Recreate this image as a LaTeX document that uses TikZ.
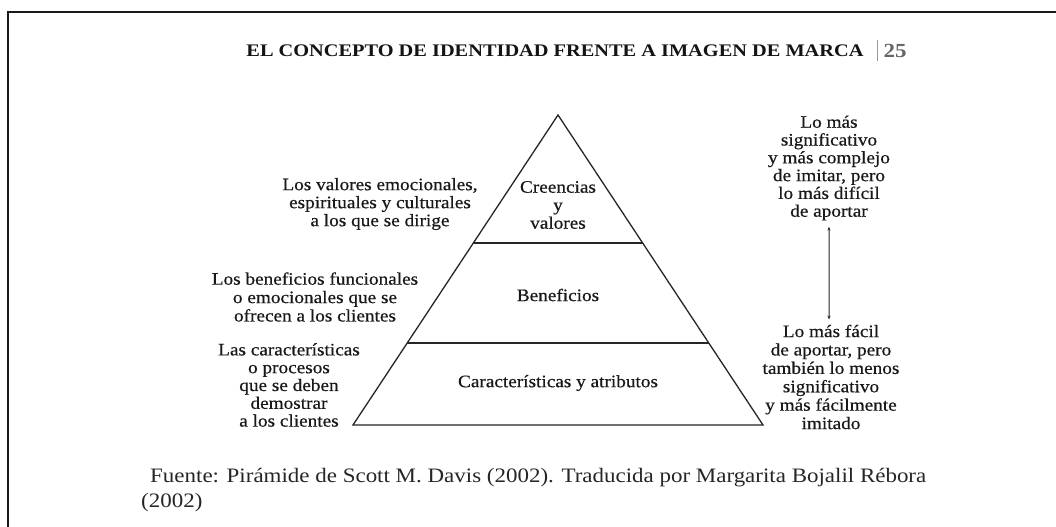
\documentclass[tikz,border=0pt]{standalone}
\usepackage{fontspec}
\setmainfont{Liberation Serif}
\newfontfamily\labfont[FakeStretch=1.1,FakeBold=0.5]{Liberation Serif}
\newfontfamily\titfont[FakeStretch=1.15]{Liberation Serif}
\newfontfamily\capfont[FakeStretch=1.12]{Liberation Serif}
\usetikzlibrary{arrows.meta}
\begin{document}
\begin{tikzpicture}[x=1bp,y=-1bp,
  lab/.style={align=center,inner sep=0pt,text=black!90,font=\labfont\fontsize{17.5bp}{18bp}\selectfont},
  pyr/.style={draw=black!85,line width=1.3bp,line join=miter},
  tit/.style={inner sep=0pt,text=black!92,font=\titfont\bfseries\fontsize{17.7bp}{18bp}\selectfont},
  capt/.style={inner sep=0pt,align=left,text=black!85,font=\capfont\fontsize{20.5bp}{25bp}\selectfont}]
\useasboundingbox (0,0) rectangle (1056,527);
\fill[white] (0,0) rectangle (1056,527);
% frame
\draw[line width=2.6bp,black!90] (8,527) -- (8,12) -- (1056,12);
% title
\node[tit] (title) at (555,51) {EL CONCEPTO DE IDENTIDAD FRENTE A IMAGEN DE MARCA};
\coordinate (bartop) at (877,40);
\coordinate (barbot) at (877,61);
\draw[black!40,line width=0.9bp] (bartop) -- (barbot);
\node[tit,font=\titfont\bfseries\fontsize{20bp}{20bp}\selectfont,text=black!60] (page) at (895,51) {25};
% pyramid
\coordinate (apex) at (558,115);
\coordinate (bl) at (353,425);
\coordinate (br) at (763,425);
\coordinate (d1l) at (473.5,243);
\coordinate (d1r) at (642.5,243);
\coordinate (d2l) at (407.4,343);
\coordinate (d2r) at (708.6,343);
\draw[pyr] (apex) -- (bl) -- (br) -- cycle;
\draw[pyr] (d1l) -- (d1r);
\draw[pyr] (d2l) -- (d2r);
\node[lab] (creen) at (558,205) {Creencias\\y\\valores};
\node[lab] (benef) at (558,295) {Beneficios};
\node[lab] (carac) at (558,383) {Características y atributos};
% left labels
\node[lab] (l1) at (380,204) {Los valores emocionales,\\espirituales y culturales\\a los que se dirige};
\node[lab,font=\labfont\fontsize{17.5bp}{18.4bp}\selectfont] (l2) at (315,297) {Los beneficios funcionales\\o emocionales que se\\ofrecen a los clientes};
\node[lab,font=\labfont\fontsize{17.5bp}{17.8bp}\selectfont] (l3) at (289,385) {Las características\\o procesos\\que se deben\\demostrar\\a los clientes};
% right labels
\node[lab,font=\labfont\fontsize{17.5bp}{17.8bp}\selectfont] (up) at (829,168) {Lo más\\significativo\\y más complejo\\de imitar, pero\\lo más difícil\\de aportar};
\node[lab,font=\labfont\fontsize{17.5bp}{18.4bp}\selectfont] (low) at (831,377) {Lo más fácil\\de aportar, pero\\también lo menos\\significativo\\y más fácilmente\\imitado};
\draw[black!85,line width=1bp,{Stealth[length=4bp,width=3bp]}-{Stealth[length=4bp,width=3bp]}] ([xshift=0bp,yshift=-6bp]up.south) -- ([xshift=-2bp,yshift=5bp]low.north);
% caption
\node[capt,anchor=north west] (fuente) at (150,468) {Fuente: Pirámide de Scott M. Davis (2002). Traducida por Margarita Bojalil Rébora\\\hspace*{-9bp}(2002)};
\end{tikzpicture}
\end{document}
